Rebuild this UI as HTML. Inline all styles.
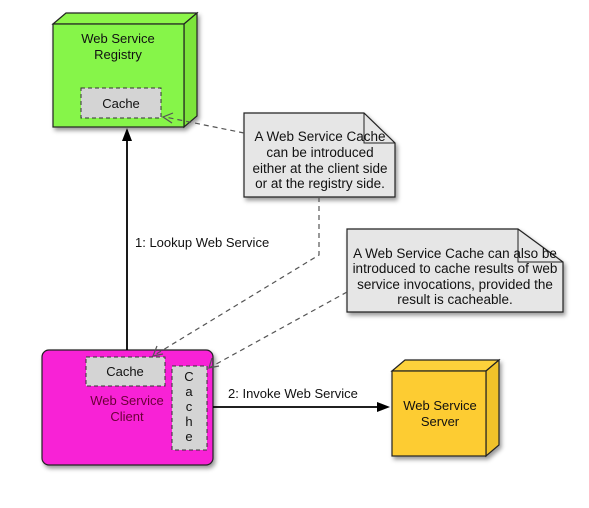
<!DOCTYPE html>
<html><head><style>body{margin:0;background:#fff}svg{display:block}text{font-family:"Liberation Sans",sans-serif;font-size:13px;fill:#111}.n{font-size:13.5px}</style></head><body>
<svg width="589" height="508" viewBox="0 0 589 508">
<defs>
<filter id="sh" x="-10%" y="-10%" width="130%" height="130%"><feDropShadow dx="2" dy="3" stdDeviation="2" flood-color="#000" flood-opacity="0.4"/></filter>
</defs>
<g filter="url(#sh)" stroke="#222" stroke-width="1.2">
<polygon points="53,24 66,13 197,13 184,24" fill="#8cf54a"/>
<polygon points="184,24 197,13 197,116 184,127" fill="#7be43a"/>
<rect x="53" y="24" width="131" height="103" fill="#86f548"/>
</g>
<text x="118" y="43" text-anchor="middle">Web Service</text>
<text x="118" y="59" text-anchor="middle">Registry</text>
<rect x="81" y="88" width="80" height="30" fill="#d4d4d4" stroke="#333" stroke-dasharray="4,3"/>
<text x="121" y="108" text-anchor="middle">Cache</text>
<g filter="url(#sh)" stroke="#222" stroke-width="1.2">
<polygon points="392,371 405,360 499,360 486,371" fill="#fdd23a"/>
<polygon points="486,371 499,360 499,445 486,456" fill="#f0c22a"/>
<rect x="392" y="371" width="94" height="85" fill="#fdcc33"/>
</g>
<text x="440" y="410" text-anchor="middle">Web Service</text>
<text x="440" y="426" text-anchor="middle">Server</text>
<rect x="42" y="350" width="171" height="115" rx="7" fill="#f821d6" stroke="#222" stroke-width="1.2" filter="url(#sh)"/>
<rect x="86" y="357" width="79" height="29" fill="#d4d4d4" stroke="#333" stroke-dasharray="4,3"/>
<text x="125" y="376" text-anchor="middle">Cache</text>
<text x="127" y="405" text-anchor="middle" style="fill:#6a0038">Web Service</text>
<text x="127" y="421" text-anchor="middle" style="fill:#6a0038">Client</text>
<rect x="172" y="366" width="35" height="84" fill="#d4d4d4" stroke="#333" stroke-dasharray="4,3"/>
<text x="189" y="381" text-anchor="middle">C</text>
<text x="189" y="396" text-anchor="middle">a</text>
<text x="189" y="411" text-anchor="middle">c</text>
<text x="189" y="426" text-anchor="middle">h</text>
<text x="189" y="441" text-anchor="middle">e</text>
<g filter="url(#sh)" stroke="#222" stroke-width="1.2" fill="#e6e6e6">
<polygon points="244,113 364,113 395,143 395,197 244,197"/>
<polygon points="347,229 518,229 563,262 563,312 347,312"/>
</g>
<polyline points="364,113 364,143 395,143" fill="none" stroke="#222"/>
<polyline points="518,229 518,262 563,262" fill="none" stroke="#222"/>
<text class="n" x="320" y="141" text-anchor="middle">A Web Service Cache</text>
<text class="n" x="320" y="157" text-anchor="middle">can be introduced</text>
<text class="n" x="320" y="173" text-anchor="middle">either at the client side</text>
<text class="n" x="320" y="188" text-anchor="middle">or at the registry side.</text>
<text class="n" x="455" y="258" text-anchor="middle">A Web Service Cache can also be</text>
<text class="n" x="455" y="273" text-anchor="middle">introduced to cache results of web</text>
<text class="n" x="455" y="289" text-anchor="middle">service invocations, provided the</text>
<text class="n" x="455" y="304" text-anchor="middle">result is cacheable.</text>
<line x1="127" y1="350" x2="127" y2="140" stroke="#000" stroke-width="1.8"/>
<polygon points="127,128 122,141 132,141" fill="#000"/>
<text x="135" y="247">1: Lookup Web Service</text>
<line x1="213" y1="407" x2="378" y2="407" stroke="#000" stroke-width="1.8"/>
<polygon points="390,407 377,402 377,412" fill="#000"/>
<text x="228" y="398">2: Invoke Web Service</text>
<g stroke="#555" stroke-dasharray="5,4" fill="none" stroke-width="1.2">
<line x1="244" y1="133" x2="165" y2="117"/>
<polyline points="319,197 319,255 153,356"/>
<line x1="347" y1="292" x2="209" y2="368"/>
</g>
<g stroke="#555" fill="none" stroke-width="1.2">
<polyline points="173,113 163,117 172,123"/>
<polyline points="157,346 153,356 163,354"/>
<polyline points="212,358 209,368 219,366"/>
</g>
</svg>
</body></html>
